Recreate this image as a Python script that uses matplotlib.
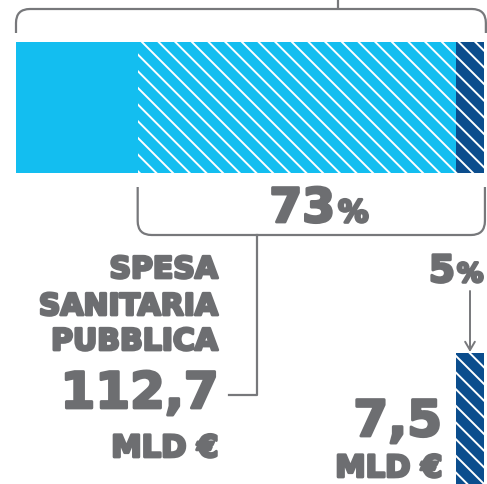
import matplotlib
matplotlib.use("Agg")
import matplotlib.pyplot as plt
from matplotlib.path import Path
from matplotlib.patches import PathPatch
import matplotlib.transforms as mtransforms
import matplotlib.patheffects as pe

# ---- data ----
segment_names = ["spesa privata", "spesa sanitaria pubblica", "quota"]
segment_shares = [26, 68, 6]          # percent of total bar
public_share_label = "73%"
small_share_label = "5%"
public_value = "112,7"
small_value = "7,5"
unit_label = "MLD €"
public_title = ["SPESA", "SANITARIA", "PUBBLICA"]

LIGHT = "#13bef0"
DARK = "#0b4d8d"
GRAY = "#6d6e71"
LINE = "#77787b"

plt.rcParams["hatch.linewidth"] = 1.4
W, H = 487, 484
fig = plt.figure(figsize=(W / 100, H / 100), dpi=100)
ax = fig.add_axes([0, 0, 1, 1])
ax.set_xlim(0, W)
ax.set_ylim(H, 0)
ax.axis("off")

# bar axes: x in percent
bx = fig.add_axes([16 / W, 1 - 173 / H, 468 / W, 131 / H])
bx.set_xlim(0, 100)
bx.set_ylim(0, 1)
bx.axis("off")

lefts = [sum(segment_shares[:i]) for i in range(len(segment_shares))]
styles = [(LIGHT, None), (LIGHT, "\\\\"), (DARK, "\\\\")]
for left, share, (col, hatch) in zip(lefts, segment_shares, styles):
    bx.barh(0.5, share, left=left, height=1, color=col, hatch=hatch,
            edgecolor="white" if hatch else col, linewidth=0)

# blended transform: x from bar axes data, y in pixel axes
blend = mtransforms.blended_transform_factory(bx.transData, ax.transData)

# small bar for last segment
ax.bar(lefts[2], 500, width=segment_shares[2], bottom=353, align="edge",
       color=DARK, hatch="\\\\", edgecolor="white", linewidth=0, transform=blend)


def bracket(x0, x1, y_end, y_line, r, trans):
    p0 = trans.transform((x0, y_end))
    p1 = trans.transform((x1, y_end))
    pl = ax.transData.transform((0, y_line))
    X0, X1 = p0[0], p1[0]
    YE, YL = p0[1], pl[1]
    s = 1 if YL > YE else -1
    verts = [(X0, YE), (X0, YL - s * r), (X0, YL), (X0 + r, YL),
             (X1 - r, YL), (X1, YL), (X1, YL - s * r), (X1, YE)]
    codes = [Path.MOVETO, Path.LINETO, Path.CURVE3, Path.CURVE3,
             Path.LINETO, Path.CURVE3, Path.CURVE3, Path.LINETO]
    patch = PathPatch(Path(verts, codes), fill=False, edgecolor=LINE, lw=1.6,
                      transform=None, capstyle="butt", joinstyle="round")
    fig.add_artist(patch)

bracket(0, 100.4, 33, 9, 14, blend)
bracket(lefts[1], 100.2, 187, 235, 14, blend)

# connector lines
ax.plot([338, 338], [0, 9], color=LINE, lw=1.6, solid_capstyle="butt")
ax.plot([257, 257, 229], [235, 395, 395], color=LINE, lw=1.6)

# arrow to small bar
ax.annotate("", xy=(470, 352), xytext=(470, 291),
            arrowprops=dict(arrowstyle="->,head_length=0.6,head_width=0.35",
                            color=LINE, lw=1.4, shrinkA=0, shrinkB=0))

FONT = "DejaVu Sans"
eff = [pe.withStroke(linewidth=2.0, foreground=GRAY)]

def txt(x, y, s, size, ha="right"):
    ax.text(x, y, s, fontsize=size, fontweight="bold", family=FONT, color=GRAY,
            ha=ha, va="baseline", path_effects=eff)

# 73%
txt(335, 222, public_share_label[:-1], 34)
txt(338, 222, "%", 22, ha="left")
# 5%
txt(455, 282, small_share_label[:-1], 27)
txt(457, 282, "%", 19, ha="left")

for s, y in zip(public_title, [278, 315, 350]):
    txt(218, y, s, 21.5)
txt(219, 408, public_value, 36)
txt(218, 457, unit_label, 22)

txt(442, 436, small_value, 36)
txt(442, 477, unit_label, 22)

fig.savefig("out.png", dpi=100)
